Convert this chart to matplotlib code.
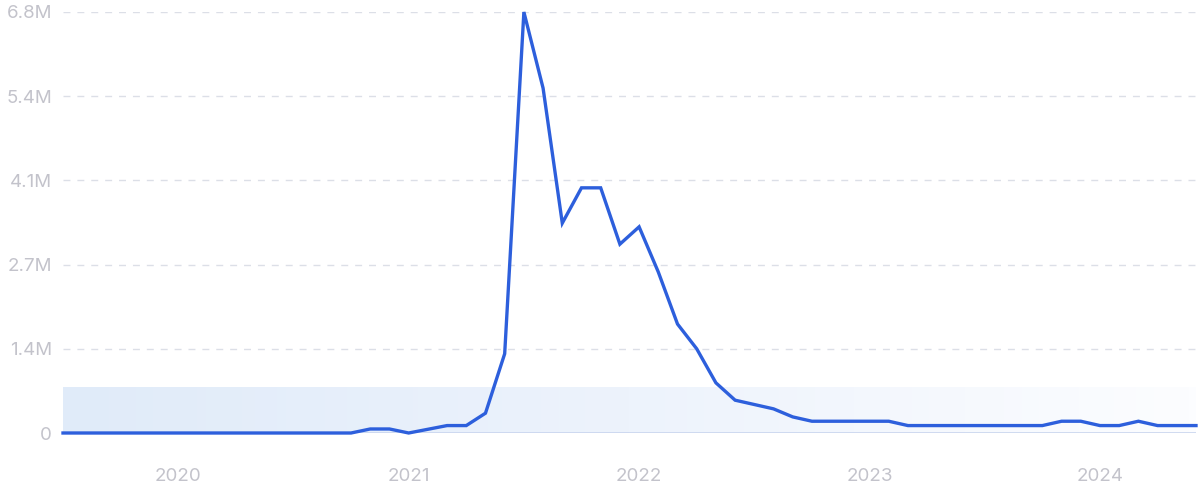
import matplotlib
matplotlib.use("Agg")
import matplotlib.pyplot as plt
import numpy as np
from matplotlib.colors import LinearSegmentedColormap

# monthly values, Jul 2019 .. Jun 2024 (in millions)
months = list(range(60))
values = [0.0] * 16 + [
    0.065, 0.065, 0.0, 0.06, 0.12, 0.12, 0.32, 1.28,   # Nov 2020 - Jun 2021
    6.8, 5.57, 3.39, 3.96, 3.96, 3.05,                 # Jul - Dec 2021
    3.33, 2.6, 1.76, 1.36, 0.81, 0.53,                 # Jan - Jun 2022
    0.46, 0.39, 0.26, 0.19, 0.19, 0.19,                # Jul - Dec 2022
    0.19, 0.19, 0.12, 0.12, 0.12, 0.12,                # Jan - Jun 2023
    0.12, 0.12, 0.12, 0.12, 0.19, 0.19,                # Jul - Dec 2023
    0.12, 0.12, 0.19, 0.12, 0.12, 0.12,                # Jan - Jun 2024
]
year_ticks = [6, 18, 30, 42, 54]
year_labels = ["2020", "2021", "2022", "2023", "2024"]
y_ticks = [0, 1.36, 2.72, 4.08, 5.44, 6.8]
y_labels = ["0", "1.4M", "2.7M", "4.1M", "5.4M", "6.8M"]
band_top = 0.73

plt.rcParams['font.family'] = ['Inter', 'DejaVu Sans']

fig = plt.figure(figsize=(12, 4.99), dpi=100)
ax = fig.add_axes([63 / 1200, 1 - 433 / 499, (1196 - 63) / 1200, (433 - 12) / 499])

# gradient band at the bottom
cmap = LinearSegmentedColormap.from_list("band", ["#e0ebf9", "#edf3fc", "#fcfdff"])
grad = np.linspace(0, 1, 256).reshape(1, -1)
ax.imshow(grad, extent=[months[0], months[-1], 0, band_top], aspect='auto',
          cmap=cmap, zorder=0, interpolation='bilinear')

# grid lines
for t in y_ticks[1:]:
    ax.axhline(t, color="#dcdfe7", lw=1, dashes=(5, 5), zorder=1)
ax.axhline(0, color="#c9d5ee", lw=1.2, zorder=1)

ax.plot(months, values, color="#2d5fdc", lw=2.4, zorder=3, clip_on=False,
        solid_joinstyle='miter')

ax.set_xlim(months[0], months[-1])
ax.set_ylim(0, 6.8)
ax.set_xticks(year_ticks)
ax.set_xticklabels(year_labels)
ax.set_yticks(y_ticks)
ax.set_yticklabels(y_labels)
ax.tick_params(length=0, labelsize=13.5, labelcolor="#c3c3cb")
ax.tick_params(axis='x', pad=25)
ax.tick_params(axis='y', pad=8)
for s in ax.spines.values():
    s.set_visible(False)

fig.savefig("out.png", dpi=100)
